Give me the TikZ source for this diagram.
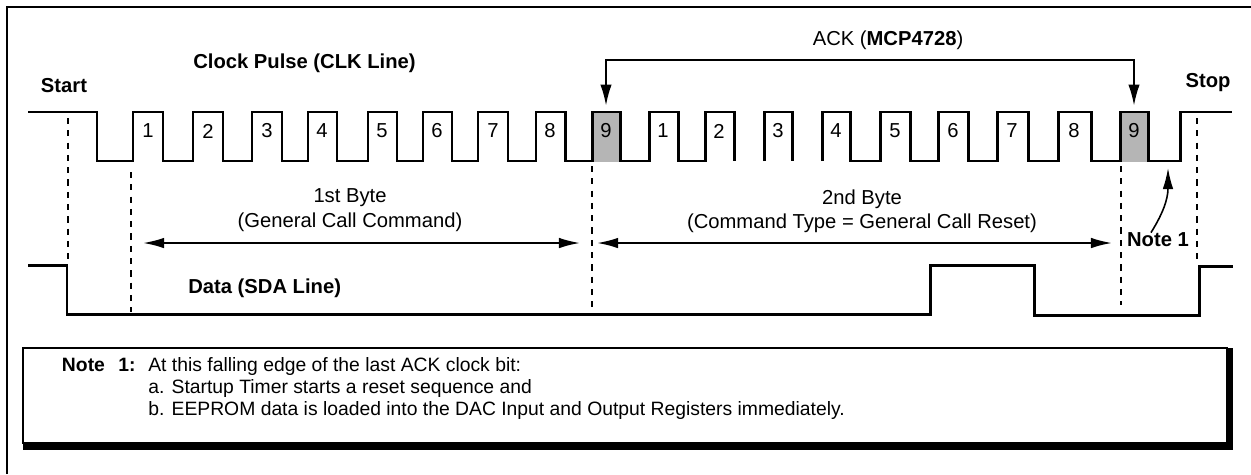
\documentclass[tikz,border=0pt]{standalone}
\usepackage{fontspec}
\setmainfont{Liberation Sans}
\usetikzlibrary{arrows.meta}
\definecolor{ackgray}{gray}{0.71}
\tikzset{
  signal/.style={line width=1.7pt, line join=miter},
  marker/.style={line width=1pt, dash pattern=on 3.5pt off 3.5pt},
  span/.style={line width=1.1pt, {Latex[length=12pt,width=6pt]}-{Latex[length=12pt,width=6pt]}},
  ackline/.style={line width=1.1pt, {Latex[length=12pt,width=6.5pt]}-{Latex[length=12pt,width=6.5pt]}},
  ackbox/.style={fill=ackgray, inner sep=0pt, minimum width=0.56cm, minimum height=1cm},
  bitlabel/.style={font=\fontsize{11.5}{13}\selectfont, inner sep=0pt},
  caption/.style={font=\fontsize{11.5}{13}\selectfont, inner sep=0pt},
  heading/.style={font=\bfseries\fontsize{11.5}{13}\selectfont, inner sep=0pt},
  notetext/.style={font=\fontsize{11}{13}\selectfont, inner sep=0pt, anchor=base west}
}
\begin{document}
\begin{tikzpicture}[x=0.02cm, y=-0.02cm]
  \useasboundingbox (0,0) rectangle (1251,474);
  % outer frame
  \draw[line width=1.1pt] (7,474) -- (7,7) -- (1251,7);
  % acknowledge slots
  \node[ackbox] (ack1) at (606,137) {};
  \node[ackbox] (ack2) at (1134,137) {};
  % clock line
  \draw[signal] (28,112) -- (97,112) -- (97,161)
    \foreach \r/\f in {133/163,193/223,252/282,308/337,368/397,423/452,478/508,536/565,592/620,649/678,705/734}
      { -- (\r,161) -- (\r,112) -- (\f,112) -- (\f,161) };
  \draw[signal] (764,161) -- (764,112) -- (792,112) -- (792,161);
  \draw[signal] (822,161)
    \foreach \r/\f in {822/850,880/910,938/968,997/1028,1058/1091,1120/1148}
      { -- (\r,161) -- (\r,112) -- (\f,112) -- (\f,161) }
    -- (1180,161) -- (1180,112) -- (1232,112);
  \foreach \c/\n [count=\i] in {148/1,208/2,267/3,322/4,382/5,437/6,493/7,550/8,606/9}
    \node[bitlabel] (fb\i) at (\c,131) {\n};
  \foreach \c/\n [count=\i] in {663/1,719/2,778/3,836/4,895/5,953/6,1012/7,1074/8,1134/9}
    \node[bitlabel] (sb\i) at (\c,131) {\n};
  % data line
  \draw[signal] (28,265) -- (67,265) -- (67,314) -- (930,314) -- (930,265)
    -- (1034,265) -- (1034,315) -- (1199,315) -- (1199,266) -- (1233,266);
  % markers
  \draw[marker] (68,118) -- (68,263);
  \draw[marker] (131,172) -- (131,312);
  \draw[marker] (592,166) -- (592,312);
  \draw[marker] (1121,166) -- (1121,305);
  \draw[marker] (1197,118) -- (1197,260);
  % labels
  \node[heading] (start) at (64,86) {Start};
  \node[heading] (stop) at (1208,83) {Stop};
  \node[heading, anchor=west] (clk) at (193,63) {Clock Pulse (CLK Line)};
  \node[heading, anchor=west] (sda) at (188,288) {Data (SDA Line)};
  \node[caption] (acktext) at (888,40) {ACK (\textbf{MCP4728})};
  \node[caption] (byte1) at (350,198) {1st Byte};
  \node[caption] (cmd1) at (350,222) {(General Call Command)};
  \node[caption] (byte2) at (862,199) {2nd Byte};
  \node[caption] (cmd2) at (862,223) {(Command Type = General Call Reset)};
  % byte spans
  \draw[span] (143,243) -- (580,243);
  \draw[span] (597,243) -- (1112,243);
  % acknowledge arrows
  \coordinate (acktop) at (870,60);
  \draw[ackline] ([yshift=3.4pt]ack1.north) |- (acktop) -| ([yshift=3.4pt]ack2.north);
  % note pointer
  \node[heading] (note1) at (1158,240) {Note 1};
  \coordinate (n1tip) at (1168,168);
  \draw[line width=0.9pt, -{Latex[length=12pt,width=6pt]}] ([xshift=-4pt]note1.north)
    .. controls (1162,215) and (1168,200) .. (n1tip);
  % note box
  \fill (23,442) rectangle (1233,450);
  \fill (1226,348) rectangle (1233,450);
  \draw[line width=1.3pt] (23,348) rectangle (1227,443);
  \node[notetext, font=\bfseries\fontsize{11}{13}\selectfont, anchor=base east] (notehead) at (136,371) {Note\hspace{0.7em}1:};
  \node[notetext] (line1) at (148,371) {At this falling edge of the last ACK clock bit:};
  \node[notetext] (line2) at (148,393) {a. Startup Timer starts a reset sequence and};
  \node[notetext] (line3) at (148,415) {b. EEPROM data is loaded into the DAC Input and Output Registers immediately.};
\end{tikzpicture}
\end{document}
